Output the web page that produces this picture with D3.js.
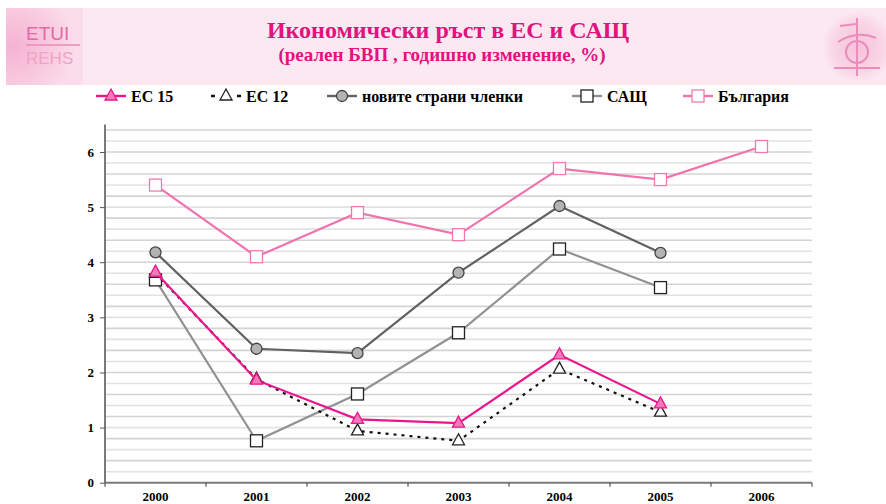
<!DOCTYPE html>
<html lang="bg">
<head>
<meta charset="UTF-8">
<title>Икономически ръст</title>
<script src="https://cdn.jsdelivr.net/npm/d3@7/dist/d3.min.js"></script>
<style>
  body { margin: 0; background: #fff; }
  text { font-family: "Liberation Serif", "Times New Roman", serif; font-weight: bold; }
</style>
</head>
<body>
<div id="chart"></div>
<script>
var years = ["2000", "2001", "2002", "2003", "2004", "2005", "2006"];
var ec15 = [3.82, 1.86, 1.15, 1.08, 2.32, 1.43];
var ec12 = [3.80, 1.88, 0.94, 0.76, 2.06, 1.28];
var newMembers = [4.18, 2.43, 2.35, 3.81, 5.02, 4.17];
var usa = [3.68, 0.76, 1.61, 2.72, 4.24, 3.54];
var bulgaria = [5.4, 4.1, 4.9, 4.5, 5.7, 5.5, 6.1];
var yTicks = [0, 1, 2, 3, 4, 5, 6];

var w = 886, h = 504;
var svg = d3.select("#chart").append("svg")
    .attr("width", w).attr("height", h);

// header band
var defs = svg.append("defs");
var lg = defs.append("radialGradient").attr("id", "logoL")
    .attr("cx", "10%").attr("cy", "50%").attr("r", "80%");
lg.append("stop").attr("offset", "0%").attr("stop-color", "#f5b3d2");
lg.append("stop").attr("offset", "55%").attr("stop-color", "#f8c8de");
lg.append("stop").attr("offset", "100%").attr("stop-color", "#fbdcea");
var rg = defs.append("radialGradient").attr("id", "logoR");
rg.append("stop").attr("offset", "0%").attr("stop-color", "#f6c0da");
rg.append("stop").attr("offset", "70%").attr("stop-color", "#f9d6e6");
rg.append("stop").attr("offset", "100%").attr("stop-color", "#fce8f0");

svg.append("rect").attr("x", 6).attr("y", 8).attr("width", 880).attr("height", 77)
    .attr("fill", "#fce8f1");
svg.append("rect").attr("x", 6).attr("y", 8).attr("width", 77).attr("height", 77)
    .attr("fill", "url(#logoL)");
svg.append("text").attr("x", 26).attr("y", 40).attr("font-size", 19)
    .style("font-family", "'Liberation Sans', sans-serif").style("font-weight", "normal")
    .attr("fill", "#e468a6").text("ETUI");
svg.append("line").attr("x1", 26).attr("x2", 80).attr("y1", 45).attr("y2", 45)
    .attr("stroke", "#e98cba").attr("stroke-width", 1.5);
svg.append("text").attr("x", 26).attr("y", 64).attr("font-size", 17)
    .style("font-family", "'Liberation Sans', sans-serif").style("font-weight", "normal")
    .attr("fill", "#f0a2c8").text("REHS");

svg.append("circle").attr("cx", 858).attr("cy", 47).attr("r", 36).attr("fill", "url(#logoR)");
var emb = svg.append("g").attr("stroke", "#ea8dbb").attr("fill", "none").attr("stroke-width", 2);
emb.append("line").attr("x1", 857).attr("x2", 857).attr("y1", 18).attr("y2", 76);
emb.append("circle").attr("cx", 857).attr("cy", 52).attr("r", 11);
emb.append("path").attr("d", "M838,42 Q857,30 876,38");
emb.append("line").attr("x1", 834).attr("x2", 880).attr("y1", 68).attr("y2", 68);
emb.append("line").attr("x1", 840).attr("x2", 856).attr("y1", 26).attr("y2", 24);

svg.append("text").attr("x", 448).attr("y", 38).attr("text-anchor", "middle")
    .attr("font-size", 24).attr("fill", "#e2127f").text("Икономически ръст в ЕС и САЩ");
svg.append("text").attr("x", 442).attr("y", 61).attr("text-anchor", "middle")
    .attr("font-size", 19).attr("fill", "#e2127f").text("(реален БВП , годишно изменение, %)");

// scales
var x = d3.scaleBand().domain(years).range([105, 812]);
var y = d3.scaleLinear().domain([0, 6]).range([482.7, 152]);
function cx(i) { return x(years[i]) + x.bandwidth() / 2; }

// gridlines every 0.2
var grid = d3.range(1, 33).map(function(k){ return k * 0.2; });
svg.append("g").selectAll("line").data(grid).enter().append("line")
    .attr("x1", 105).attr("x2", 812)
    .attr("y1", function(d){ return y(d); }).attr("y2", function(d){ return y(d); })
    .attr("stroke", function(d, i){ return i % 2 ? "#d4d4d4" : "#e2e2e2"; })
    .attr("stroke-width", 1.6);

// axes
var yAxis = svg.append("g").attr("transform", "translate(105,0)")
    .call(d3.axisLeft(y).tickValues(yTicks).tickFormat(d3.format("d")).tickSize(5).tickPadding(6));
yAxis.select(".domain").attr("d", "M0," + y(6.5) + "V" + y(0));
var xAxis = svg.append("g").attr("transform", "translate(0," + y(0) + ")")
    .call(d3.axisBottom(x).tickSize(0).tickPadding(9));
xAxis.select(".domain").attr("d", "M105,0H812");
xAxis.selectAll(".bt").data(d3.range(8)).enter().append("line").attr("class", "bt")
    .attr("x1", function(d){ return 105 + d * x.bandwidth(); })
    .attr("x2", function(d){ return 105 + d * x.bandwidth(); })
    .attr("y1", 0).attr("y2", 4).attr("stroke", "#555").attr("stroke-width", 1.2);
svg.selectAll(".domain").attr("stroke", "#7a7a7a").attr("stroke-width", 2);
yAxis.selectAll(".tick line").attr("stroke", "#555");
svg.selectAll(".tick text").attr("font-size", 13).attr("fill", "#000")
    .style("font-family", "'Liberation Serif', serif").style("font-weight", "bold");

var line = d3.line().x(function(d, i){ return cx(i); }).y(function(d){ return y(d); });

var series = [
  { data: bulgaria, color: "#f173ad", dash: null, marker: "square", fill: "#fff", mstroke: "#f07aaf" },
  { data: usa, color: "#929292", dash: null, marker: "square", fill: "#fff", mstroke: "#222" },
  { data: newMembers, color: "#616161", dash: null, marker: "circle", fill: "#b3b3b3", mstroke: "#444" },
  { data: ec12, color: "#111", dash: "3,5", marker: "triangle", fill: "#fff", mstroke: "#222" },
  { data: ec15, color: "#ec168c", dash: null, marker: "triangle", fill: "#f27ab8", mstroke: "#ec168c" }
];

function drawMarker(g, type, px, py, fill, stroke) {
  if (type === "square") {
    g.append("rect").attr("x", px - 6).attr("y", py - 6).attr("width", 12).attr("height", 12)
      .attr("fill", fill).attr("stroke", stroke).attr("stroke-width", 1.3);
  } else if (type === "circle") {
    g.append("circle").attr("cx", px).attr("cy", py).attr("r", 5.5)
      .attr("fill", fill).attr("stroke", stroke).attr("stroke-width", 1.3);
  } else {
    g.append("path").attr("d", "M" + px + "," + (py - 7) + "L" + (px + 6) + "," + (py + 4) + "L" + (px - 6) + "," + (py + 4) + "Z")
      .attr("fill", fill).attr("stroke", stroke).attr("stroke-width", 1.3);
  }
}

series.forEach(function(s) {
  var g = svg.append("g");
  g.append("path").attr("d", line(s.data)).attr("fill", "none")
    .attr("stroke", s.color).attr("stroke-width", 2.2)
    .attr("stroke-dasharray", s.dash);
  s.data.forEach(function(v, i) { drawMarker(g, s.marker, cx(i), y(v), s.fill, s.mstroke); });
});

// legend
var legend = [
  { label: "ЕС 15", x: 96, s: series[4] },
  { label: "ЕС 12", x: 211, s: series[3] },
  { label: "новите страни членки", x: 327, s: series[2] },
  { label: "САЩ", x: 572, s: series[1] },
  { label: "България", x: 683, s: series[0] }
];
var ly = 96;
legend.forEach(function(l) {
  var g = svg.append("g");
  g.append("line").attr("x1", l.x).attr("x2", l.x + 30).attr("y1", ly).attr("y2", ly)
    .attr("stroke", l.s.color).attr("stroke-width", 2.4)
    .attr("stroke-dasharray", l.s.dash ? "4,22,4,100" : null);
  drawMarker(g, l.s.marker, l.x + 15, ly, l.s.fill, l.s.mstroke);
  g.append("text").attr("x", l.x + 35).attr("y", ly + 6).attr("font-size", 16).attr("fill", "#000").text(l.label);
});
</script>
</body>
</html>
